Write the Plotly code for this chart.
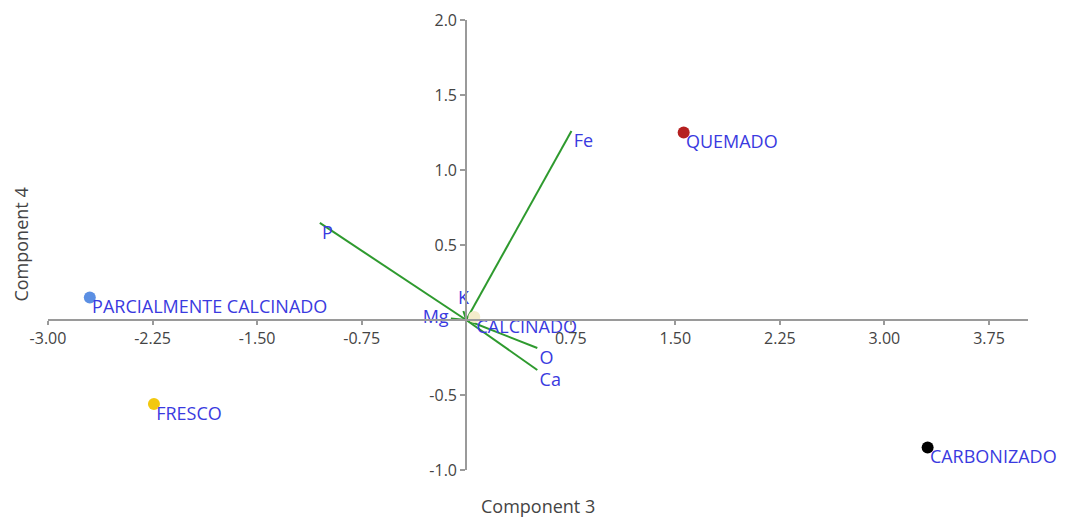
import plotly.graph_objects as go

# Sample scores (Component 3, Component 4)
samples = ["PARCIALMENTE CALCINADO", "FRESCO", "CALCINADO", "QUEMADO", "CARBONIZADO"]
sample_x = [-2.70, -2.24, 0.058, 1.56, 3.31]
sample_y = [0.15, -0.56, 0.02, 1.25, -0.85]
sample_colors = ["#5b8fe3", "#f2c80f", "#f4eccb", "#b52020", "#000000"]

# Variable loadings
variables = ["Fe", "P", "O", "Ca", "Mg", "K"]
load_x = [0.755, -1.05, 0.51, 0.51, -0.11, -0.02]
load_y = [1.26, 0.647, -0.187, -0.333, 0.01, 0.06]
load_textpos = ["bottom right", "bottom right", "bottom right", "bottom right",
                "middle left", "top center"]

x_ticks = [-3.00, -2.25, -1.50, -0.75, 0.75, 1.50, 2.25, 3.00, 3.75]
y_ticks = [-1.0, -0.5, 0.5, 1.0, 1.5, 2.0]

x_range = [-3.0, 4.03]
y_range = [-1.0, 2.0]

label_color = "#3a3ae0"
axis_color = "#9a9a9a"
font_family = "Open Sans, sans-serif"
tick_font = dict(family=font_family, size=16, color="#444444")
title_font = dict(family=font_family, size=18, color="#444444")
label_font = dict(family=font_family, size=18, color=label_color)

fig = go.Figure()

# loading vectors
for vx, vy in zip(load_x, load_y):
    fig.add_trace(go.Scatter(x=[0, vx], y=[0, vy], mode="lines",
                             line=dict(color="#2e9a2e", width=2),
                             hoverinfo="skip", showlegend=False))

fig.add_trace(go.Scatter(x=load_x, y=load_y, mode="markers+text", text=variables,
                         marker=dict(size=2, opacity=0),
                         textposition=load_textpos, textfont=label_font,
                         cliponaxis=False, showlegend=False))

# sample points
fig.add_trace(go.Scatter(x=sample_x, y=sample_y, mode="markers",
                         marker=dict(size=12, color=sample_colors),
                         cliponaxis=False, showlegend=False))
fig.add_trace(go.Scatter(x=sample_x, y=sample_y, mode="markers+text", text=samples,
                         marker=dict(size=2, opacity=0),
                         textposition="bottom right", textfont=label_font,
                         cliponaxis=False, showlegend=False))

fig.update_layout(
    width=1061, height=509,
    margin=dict(l=40, r=41, t=12, b=47),
    paper_bgcolor="white", plot_bgcolor="white",
    xaxis=dict(range=x_range, anchor="free", automargin=False,
               position=(0 - y_range[0]) / (y_range[1] - y_range[0]),
               tickvals=x_ticks, ticktext=[f"{v:.2f}" for v in x_ticks],
               showgrid=False, zeroline=False, showline=True,
               linecolor=axis_color, linewidth=2, ticks="outside",
               ticklen=4, tickcolor=axis_color, tickwidth=1.5, tickfont=tick_font),
    yaxis=dict(range=y_range, anchor="free", automargin=False,
               position=(0 - x_range[0]) / (x_range[1] - x_range[0]),
               tickvals=y_ticks, ticktext=[f"{v:.1f}" for v in y_ticks],
               showgrid=False, zeroline=False, showline=True,
               linecolor=axis_color, linewidth=2, ticks="outside",
               ticklen=5, tickcolor=axis_color, tickwidth=1.5, tickfont=tick_font),
    annotations=[
        dict(text="Component 3", xref="paper", yref="paper", x=0.5, y=-0.08,
             showarrow=False, font=title_font, xanchor="center", yanchor="middle"),
        dict(text="Component 4", xref="paper", yref="paper", x=-0.028, y=0.5,
             showarrow=False, font=title_font, textangle=-90,
             xanchor="center", yanchor="middle"),
    ],
)

fig.write_html("out.html")
